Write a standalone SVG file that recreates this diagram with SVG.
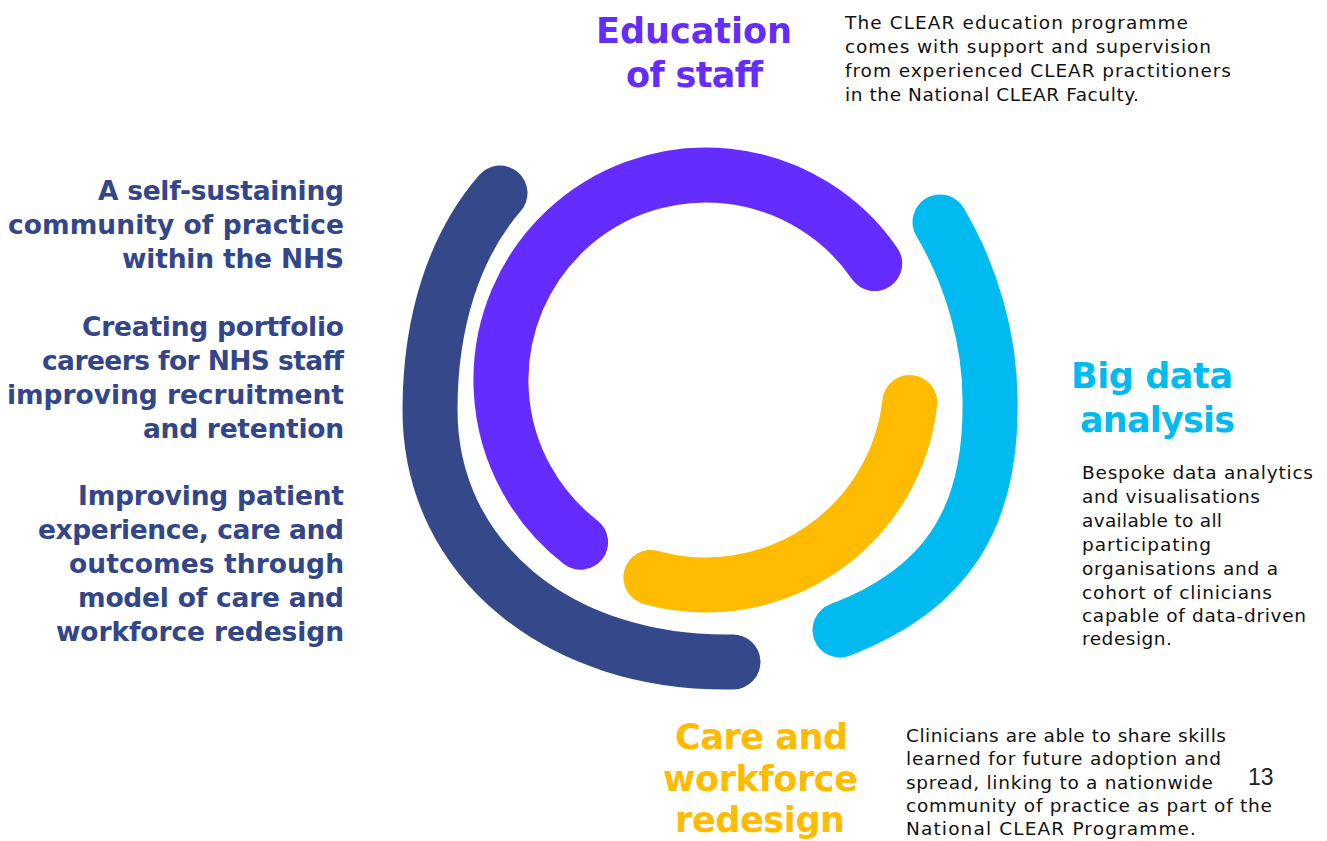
<svg xmlns="http://www.w3.org/2000/svg" width="1327" height="841" viewBox="0 0 1327 841">
  <style>
    .ring { fill: none; stroke-linecap: round; stroke-width: 55; }
    .head { font-family: "DejaVu Sans", "Noto Sans", sans-serif; font-weight: 700; font-size: 35px; }
    .side { font-family: "DejaVu Sans", "Noto Sans", sans-serif; font-weight: 700; font-size: 26.5px; fill: #34468a; }
    .body { font-family: "DejaVu Sans", "Noto Sans", sans-serif; font-size: 18.5px; fill: #111111; }
    .page { font-family: "Liberation Sans", Arial, sans-serif; font-size: 23px; fill: #222222; }
  </style>
  <rect width="1327" height="841" fill="#ffffff"/>

  <!-- outer dark ring: community of practice -->
  <g id="community">
    <path class="ring" stroke="#34488a" d="M500 193 C455 245 430 320 430 410 C430 560 560 665 733 662"/>
  </g>

  <!-- education ring -->
  <g id="education">
    <path class="ring" stroke="#652cff" d="M874.7 263.6 A205 205 0 1 0 580.6 542.2"/>
    <text class="head" fill="#652cff" x="596" y="43" textLength="196">Education</text>
    <text class="head" fill="#652cff" x="626" y="87" textLength="137">of staff</text>
    <text class="body" x="845" y="29" textLength="343">The CLEAR education programme</text>
    <text class="body" x="845" y="53" textLength="366">comes with support and supervision</text>
    <text class="body" x="845" y="77" textLength="386">from experienced CLEAR practitioners</text>
    <text class="body" x="845" y="101" textLength="294">in the National CLEAR Faculty.</text>
  </g>

  <!-- big data ring -->
  <g id="bigdata">
    <path class="ring" stroke="#00baf0" d="M940 222 C972 276 990 340 990 400 C992 520 945 590 840 630"/>
    <text class="head" fill="#00baf0" x="1071" y="388" textLength="162">Big data</text>
    <text class="head" fill="#00baf0" x="1080" y="432" textLength="155">analysis</text>
    <text class="body" x="1082" y="479" textLength="231">Bespoke data analytics</text>
    <text class="body" x="1082" y="503" textLength="178">and visualisations</text>
    <text class="body" x="1082" y="527" textLength="140">available to all</text>
    <text class="body" x="1082" y="551" textLength="129">participating</text>
    <text class="body" x="1082" y="575" textLength="196">organisations and a</text>
    <text class="body" x="1082" y="599" textLength="190">cohort of clinicians</text>
    <text class="body" x="1082" y="622" textLength="224">capable of data-driven</text>
    <text class="body" x="1082" y="645" textLength="90">redesign.</text>
  </g>

  <!-- care and workforce ring -->
  <g id="care">
    <path class="ring" stroke="#ffbb00" d="M909.8 402.5 A205 205 0 0 1 650.9 577.4"/>
    <text class="head" fill="#ffbb00" x="675" y="749" textLength="173">Care and</text>
    <text class="head" fill="#ffbb00" x="663" y="791" textLength="195">workforce</text>
    <text class="head" fill="#ffbb00" x="675" y="832" textLength="170">redesign</text>
    <text class="body" x="906" y="742" textLength="320">Clinicians are able to share skills</text>
    <text class="body" x="906" y="765" textLength="315">learned for future adoption and</text>
    <text class="body" x="906" y="789" textLength="307">spread, linking to a nationwide</text>
    <text class="body" x="906" y="812" textLength="366">community of practice as part of the</text>
    <text class="body" x="906" y="835" textLength="290">National CLEAR Programme.</text>
  </g>

  <!-- outcomes listed beside the rings -->
  <g id="outcomes">
    <text class="side" x="98" y="200" textLength="246">A self-sustaining</text>
    <text class="side" x="8" y="234" textLength="336">community of practice</text>
    <text class="side" x="122" y="268" textLength="222">within the NHS</text>
    <text class="side" x="82" y="336" textLength="262">Creating portfolio</text>
    <text class="side" x="42" y="370" textLength="302">careers for NHS staff</text>
    <text class="side" x="7" y="404" textLength="337">improving recruitment</text>
    <text class="side" x="143" y="438" textLength="201">and retention</text>
    <text class="side" x="78" y="505" textLength="266">Improving patient</text>
    <text class="side" x="38" y="539" textLength="306">experience, care and</text>
    <text class="side" x="69" y="573" textLength="275">outcomes through</text>
    <text class="side" x="78" y="607" textLength="266">model of care and</text>
    <text class="side" x="56" y="641" textLength="288">workforce redesign</text>
  </g>

  <text class="page" x="1248" y="785">13</text>
</svg>
